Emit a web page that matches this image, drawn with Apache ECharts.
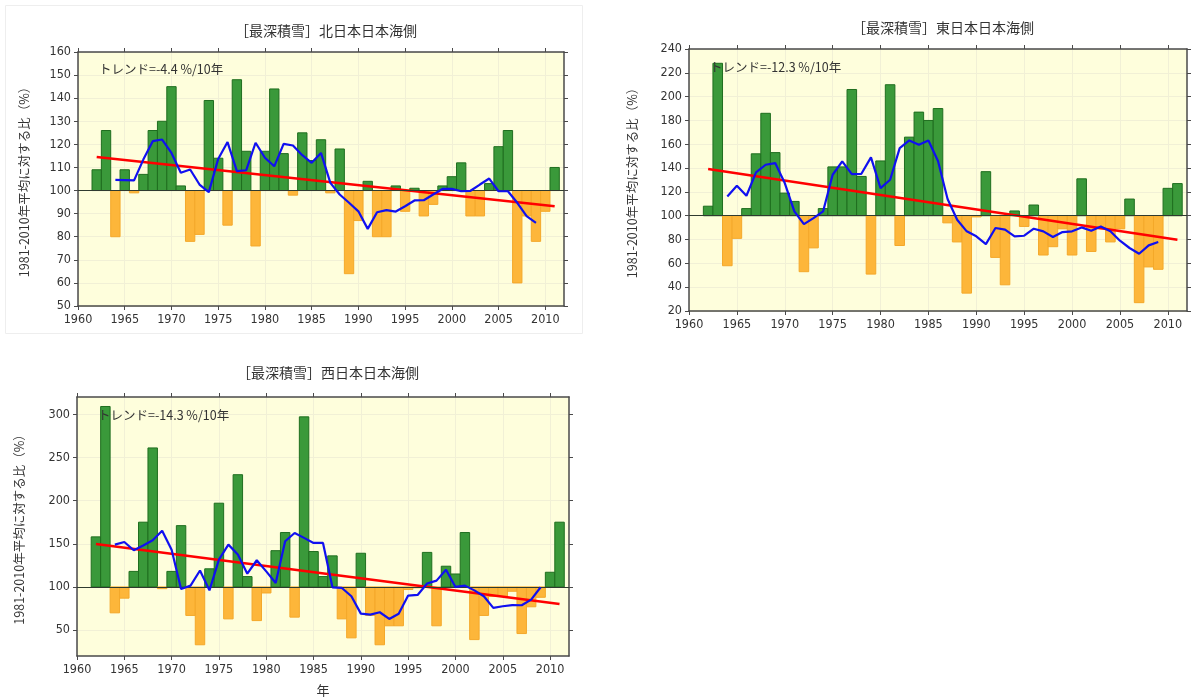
<!DOCTYPE html>
<html>
<head>
<meta charset="utf-8">
<script src="https://cdn.jsdelivr.net/npm/echarts@6/dist/echarts.min.js"></script>
<style>
  html, body { margin: 0; padding: 0; background: #ffffff; }
  #chart { width: 1192px; height: 700px; }
</style>
</head>
<body>
<div id="chart"></div>
<script>
// Winter maximum snow depth, ratio to the 1981-2010 normal (%), Sea of Japan side regions.
const years = [1962, 1963, 1964, 1965, 1966, 1967, 1968, 1969, 1970, 1971,
               1972, 1973, 1974, 1975, 1976, 1977, 1978, 1979, 1980, 1981,
               1982, 1983, 1984, 1985, 1986, 1987, 1988, 1989, 1990, 1991,
               1992, 1993, 1994, 1995, 1996, 1997, 1998, 1999, 2000, 2001,
               2002, 2003, 2004, 2005, 2006, 2007, 2008, 2009, 2010, 2011];

// 5-year running mean is plotted for the central years only
const meanYears = [1964, 1965, 1966, 1967, 1968, 1969, 1970, 1971, 1972, 1973,
                   1974, 1975, 1976, 1977, 1978, 1979, 1980, 1981, 1982, 1983,
                   1984, 1985, 1986, 1987, 1988, 1989, 1990, 1991, 1992, 1993,
                   1994, 1995, 1996, 1997, 1998, 1999, 2000, 2001, 2002, 2003,
                   2004, 2005, 2006, 2007, 2008, 2009];

// 北日本日本海側
const northValues = [109, 126, 80, 109, 99, 107, 126, 130, 145, 102,
                     78, 81, 139, 114, 85, 148, 117, 76, 117, 144,
                     116, 98, 125, 113, 122, 99, 118, 64, 87, 104,
                     80, 80, 102, 91, 101, 89, 94, 102, 106, 112,
                     89, 89, 103, 119, 126, 60, 89, 78, 91, 110];
const northMean = [104.6, 104.5, 104.4, 113.5, 121.4, 122.1, 116.3, 107.7, 109.1, 102.6,
                   99.3, 113.7, 121.0, 108.4, 108.8, 120.7, 114.2, 110.5, 120.2, 119.5,
                   115.3, 112.0, 116.3, 103.3, 98.3, 94.7, 91.0, 83.4, 90.6, 91.5,
                   90.9, 93.2, 95.7, 95.8, 98.3, 100.7, 100.7, 99.7, 99.9, 102.6,
                   105.2, 99.7, 99.7, 94.7, 88.9, 86.0];
const northTrendYears = [1962, 2011];
const northTrend = [114.5, 93.2];
const northTicks = [50, 60, 70, 80, 90, 100, 110, 120, 130, 140, 150, 160];

// 東日本日本海側
const eastValues = [108, 228, 58, 81, 106, 152, 186, 153, 119, 112,
                    53, 73, 106, 141, 141, 206, 133, 51, 146, 210,
                    75, 166, 187, 180, 190, 94, 78, 35, 99, 137,
                    65, 42, 104, 91, 109, 67, 74, 89, 67, 131,
                    70, 89, 78, 89, 114, 27, 57, 55, 123, 127];
const eastMean = [116.2, 125.2, 116.8, 136.4, 142.8, 144.2, 127.4, 103.6, 93.0, 98.0,
                  103.6, 134.4, 145.6, 135.0, 135.2, 149.0, 123.2, 130.2, 156.8, 163.2,
                  159.6, 163.2, 146.0, 114.0, 96.6, 86.9, 82.7, 76.2, 89.7, 88.3,
                  82.7, 83.2, 89.1, 86.9, 82.1, 86.3, 86.9, 90.2, 87.4, 91.0,
                  86.9, 79.0, 72.9, 68.1, 75.1, 77.9];
const eastTrendYears = [1962, 2011];
const eastTrend = [139.2, 79.9];
const eastTicks = [20, 40, 60, 80, 100, 120, 140, 160, 180, 200, 220, 240];

// 西日本日本海側
const westValues = [158, 309, 70, 87, 118, 175, 261, 98, 118, 171,
                    67, 33, 121, 197, 63, 230, 112, 61, 93, 142,
                    163, 65, 297, 141, 112, 136, 63, 41, 139, 67,
                    33, 55, 55, 97, 99, 140, 55, 124, 115, 163,
                    39, 67, 89, 89, 95, 46, 77, 88, 117, 175];
const westMean = [149.0, 152.0, 142.5, 148.0, 154.0, 165.0, 143.0, 97.7, 101.5, 119.0,
                  96.0, 131.7, 149.0, 137.5, 115.4, 130.9, 118.0, 104.6, 152.9, 162.5,
                  156.8, 151.0, 151.0, 99.6, 98.8, 89.2, 69.1, 68.0, 70.7, 62.9,
                  69.0, 90.0, 90.7, 103.9, 107.3, 120.0, 100.0, 101.5, 96.0, 89.2,
                  75.7, 77.6, 79.0, 78.8, 85.3, 99.6];
const westTrendYears = [1962, 2011];
const westTrend = [149.8, 80.3];
const westTicks = [50, 100, 150, 200, 250, 300];

const yearTicks = [1960, 1965, 1970, 1975, 1980, 1985, 1990, 1995, 2000, 2005, 2010];

const BASE = 100;
const FONT = "'Liberation Sans Narrow', 'DejaVu Sans Condensed', 'Noto Sans', sans-serif";
const CJK = "'Noto Sans CJK JP', sans-serif";
const TEXT = '#333333';
const AXIS = '#4a4a4a';
const PLOT_BG = '#FEFEDC';
const GREEN = '#3A993A';
const GREEN_EDGE = '#1F6E1F';
const ORANGE = '#FDB63A';
const ORANGE_EDGE = '#F4A82A';

const panels = [
  { title: '［最深積雪］北日本日本海側', trendText: 'トレンド=-4.4 %/10年',
    values: northValues, mean: northMean, trendYears: northTrendYears, trend: northTrend,
    ticks: northTicks, yMin: 50, yMax: 160,
    grid: { left: 78, top: 52, width: 486, height: 254 },
    titleTop: 19, trendPos: [94, 58], yNameGap: 47, xName: '' },
  { title: '［最深積雪］東日本日本海側', trendText: 'トレンド=-12.3 %/10年',
    values: eastValues, mean: eastMean, trendYears: eastTrendYears, trend: eastTrend,
    ticks: eastTicks, yMin: 20, yMax: 240,
    grid: { left: 689, top: 49, width: 498, height: 262 },
    titleTop: 16, trendPos: [705, 56], yNameGap: 51, xName: '' },
  { title: '［最深積雪］西日本日本海側', trendText: 'トレンド=-14.3 %/10年',
    values: westValues, mean: westMean, trendYears: westTrendYears, trend: westTrend,
    ticks: westTicks, yMin: 20, yMax: 320,
    grid: { left: 77, top: 397, width: 492, height: 259 },
    titleTop: 361, trendPos: [93, 404], yNameGap: 51, xName: '年' }
];

const X_MIN = 1960, X_MAX = 2012;

const option = {
  animation: false,
  backgroundColor: '#ffffff',
  title: [],
  grid: [],
  xAxis: [],
  yAxis: [],
  series: [],
  graphic: [
    // light frame around the first panel
    { type: 'rect', shape: { x: 5.5, y: 5.5, width: 577, height: 328 },
      style: { fill: 'none', stroke: '#eeeeee', lineWidth: 1 }, z: -1 }
  ]
};

const plain = v => String(v);

panels.forEach((p, i) => {
  const g = p.grid;
  option.grid.push({ left: g.left, top: g.top, width: g.width, height: g.height,
                     backgroundColor: PLOT_BG, show: true, borderWidth: 0 });

  option.title.push({
    text: p.title, left: g.left + g.width / 2, top: p.titleTop, textAlign: 'center',
    textStyle: { fontFamily: CJK, fontSize: 14, fontWeight: 'normal', color: TEXT }
  });
  option.title.push({
    text: p.trendText, left: p.trendPos[0], top: p.trendPos[1],
    textStyle: { fontFamily: CJK, fontSize: 12.5, fontWeight: 'normal', color: TEXT }
  });

  const tickStyle = { show: true, length: 4, lineStyle: { color: AXIS, width: 1 } };
  const lineStyle = { show: true, lineStyle: { color: AXIS, width: 1.5 } };
  const split = { show: true, lineStyle: { color: '#f1f0d6', width: 1 } };

  // bottom (labelled) and top (ticks only) year axes
  option.xAxis.push({
    type: 'value', gridIndex: i, position: 'bottom', min: X_MIN, max: X_MAX,
    name: p.xName, nameLocation: 'middle', nameGap: 28,
    nameTextStyle: { fontFamily: CJK, fontSize: 13, color: TEXT },
    axisLine: Object.assign({ onZero: false }, lineStyle),
    axisTick: Object.assign({ customValues: yearTicks }, tickStyle),
    axisLabel: { customValues: yearTicks, formatter: plain, fontFamily: FONT, fontSize: 12.5, color: TEXT, margin: 7 },
    splitLine: split
  });
  option.xAxis.push({
    type: 'value', gridIndex: i, position: 'top', min: X_MIN, max: X_MAX,
    axisLine: Object.assign({ onZero: false }, lineStyle),
    axisTick: Object.assign({ customValues: yearTicks }, tickStyle),
    axisLabel: { show: false }, splitLine: { show: false }
  });

  // left (labelled) and right (ticks only) ratio axes
  option.yAxis.push({
    type: 'value', gridIndex: i, position: 'left', min: p.yMin, max: p.yMax,
    name: '1981-2010年平均に対する比（%）', nameLocation: 'middle', nameGap: p.yNameGap,
    nameRotate: 90,
    nameTextStyle: { fontFamily: CJK, fontSize: 12.5, color: TEXT },
    axisLine: Object.assign({ onZero: false }, lineStyle),
    axisTick: Object.assign({ customValues: p.ticks }, tickStyle),
    axisLabel: { customValues: p.ticks, formatter: plain, fontFamily: FONT, fontSize: 12.5, color: TEXT, margin: 7 },
    splitLine: split
  });
  option.yAxis.push({
    type: 'value', gridIndex: i, position: 'right', min: p.yMin, max: p.yMax,
    axisLine: Object.assign({ onZero: false }, lineStyle),
    axisTick: Object.assign({ customValues: p.ticks }, tickStyle),
    axisLabel: { show: false }, splitLine: { show: false }
  });

  const xi = i * 2, yi = i * 2;

  // yearly bars measured from the 100 % baseline
  option.series.push({
    type: 'custom', xAxisIndex: xi, yAxisIndex: yi, z: 2,
    data: years.map((y, k) => [y, p.values[k]]),
    renderItem: (params, api) => {
      const yr = api.value(0), v = api.value(1);
      const a = api.coord([yr - 0.5, v]);
      const b = api.coord([yr + 0.5, BASE]);
      const up = v >= BASE;
      return {
        type: 'rect',
        shape: { x: a[0], y: Math.min(a[1], b[1]), width: b[0] - a[0], height: Math.abs(b[1] - a[1]) },
        style: { fill: up ? GREEN : ORANGE, stroke: up ? GREEN_EDGE : ORANGE_EDGE, lineWidth: 1 }
      };
    },
    markLine: {
      silent: true, symbol: 'none', label: { show: false },
      lineStyle: { color: '#2f3a2f', width: 1.2, type: 'solid' },
      data: [{ yAxis: BASE }]
    }
  });

  // long-term linear trend
  option.series.push({
    type: 'line', xAxisIndex: xi, yAxisIndex: yi, z: 4,
    data: p.trendYears.map((y, k) => [y, p.trend[k]]),
    showSymbol: false, symbol: 'none',
    lineStyle: { color: '#FF0000', width: 2.5 }
  });

  // 5-year running mean
  option.series.push({
    type: 'line', xAxisIndex: xi, yAxisIndex: yi, z: 5,
    data: meanYears.map((y, k) => [y, p.mean[k]]),
    showSymbol: false, symbol: 'none',
    lineStyle: { color: '#1010F0', width: 2.2 }
  });
});

const chart = echarts.init(document.getElementById('chart'), null, { renderer: 'canvas' });
chart.setOption(option);
</script>
</body>
</html>
